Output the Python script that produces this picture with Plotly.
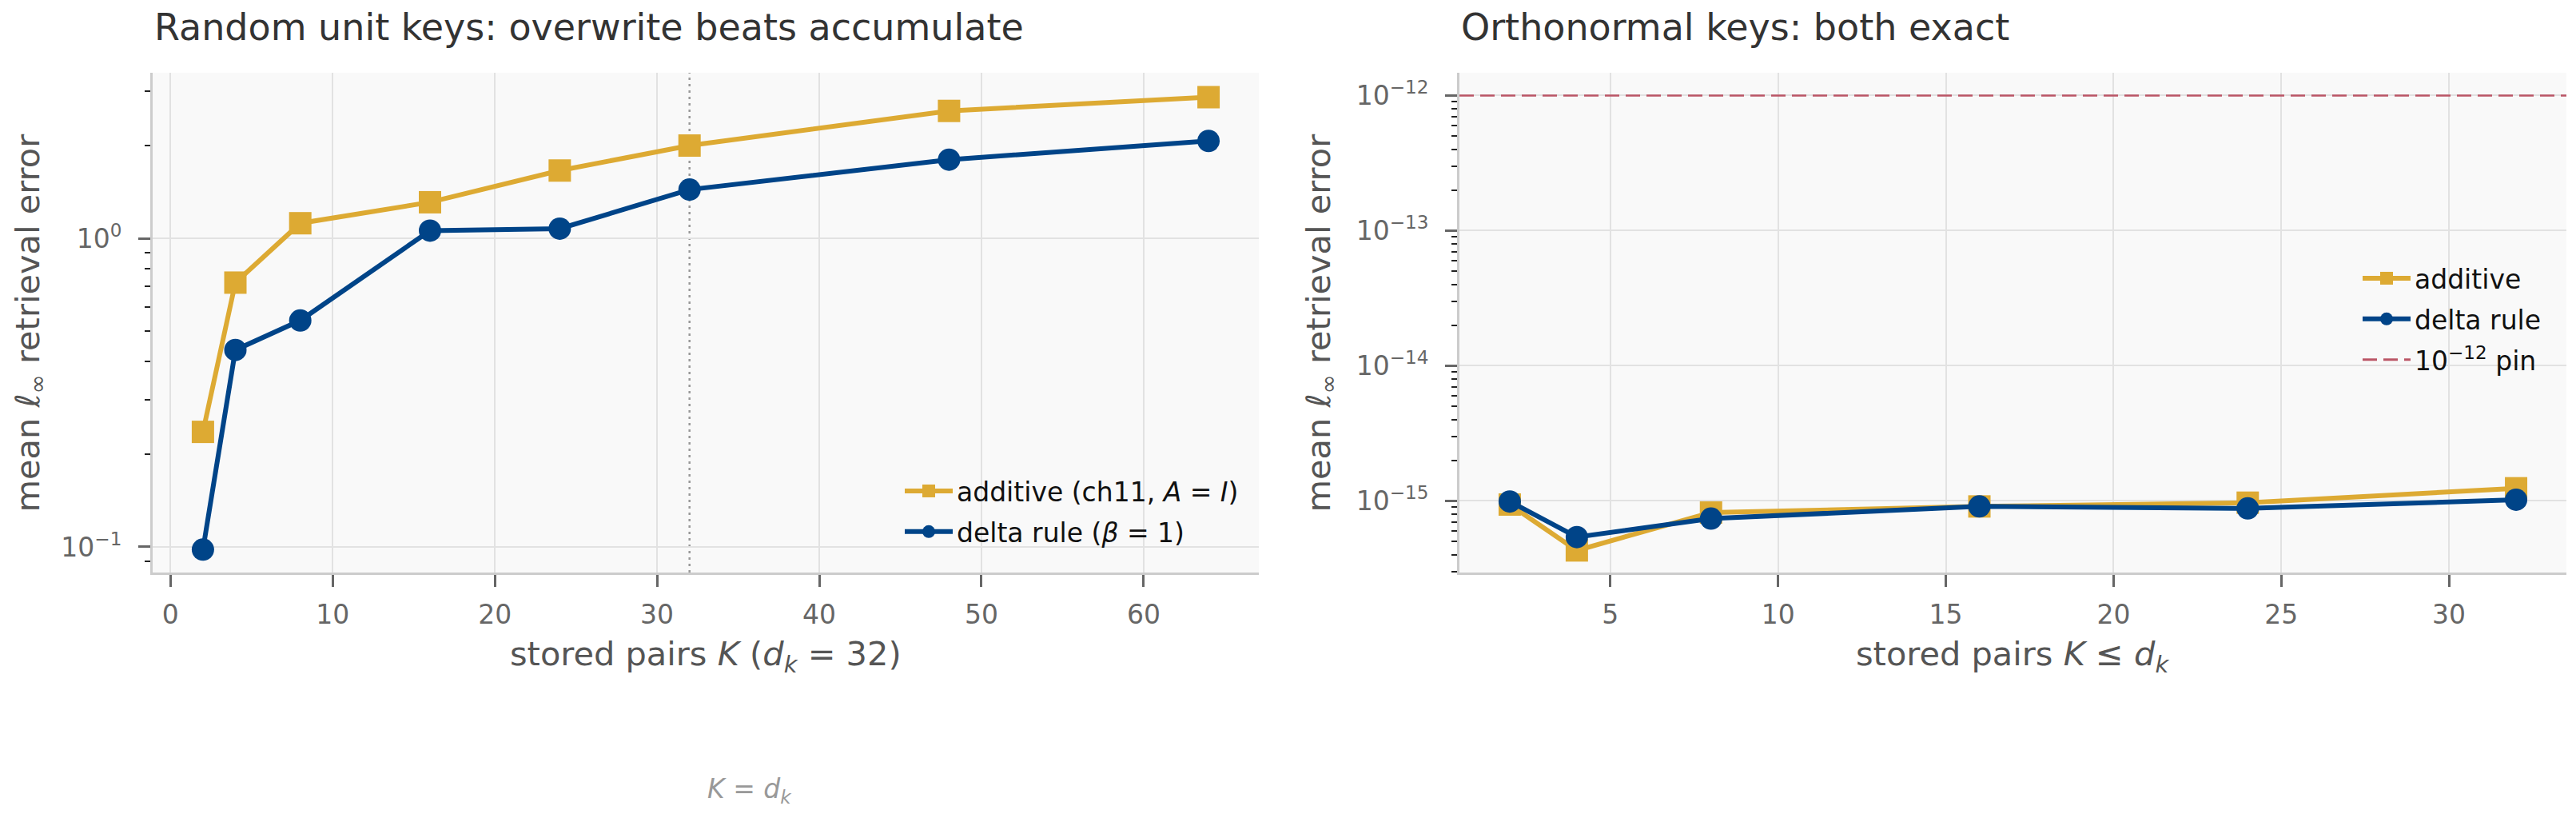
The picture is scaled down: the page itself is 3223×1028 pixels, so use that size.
import plotly.graph_objects as go

# ---------------- data ----------------
K_random = [2, 4, 8, 16, 24, 32, 48, 64]
additive_random = [0.236, 0.719, 1.12, 1.31, 1.66, 2.00, 2.59, 2.87]
delta_random = [0.098, 0.435, 0.542, 1.06, 1.076, 1.44, 1.80, 2.07]

K_ortho = [2, 4, 8, 16, 24, 32]
additive_ortho = [9.4e-16, 4.3e-16, 8.2e-16, 9.1e-16, 9.7e-16, 1.24e-15]
delta_ortho = [9.9e-16, 5.4e-16, 7.4e-16, 9.1e-16, 8.8e-16, 1.02e-15]

D_K = 32
PIN = 1e-12

left_ytickvals = [0.1, 1]
left_yticktext = ["10<sup>\u22121</sup>", "10<sup>0</sup>"]
right_ytickvals = [1e-15, 1e-14, 1e-13, 1e-12]
right_yticktext = ["10<sup>\u221215</sup>", "10<sup>\u221214</sup>",
                   "10<sup>\u221213</sup>", "10<sup>\u221212</sup>"]

# ---------------- style ----------------
GOLD = "#DDAA33"
BLUE = "#004488"
RED = "#BB5566"
FONT = "DejaVu Sans"
W, H = 3223, 1028

def minor_vals(lo_exp, hi_exp):
    vals = []
    for e in range(lo_exp, hi_exp + 1):
        for m in range(2, 10):
            vals.append(m * 10.0 ** e)
    return vals

fig = go.Figure()

# left panel
fig.add_trace(go.Scatter(
    x=K_random, y=additive_random, mode="lines+markers",
    name="additive (ch11, <i>A</i> = <i>I</i>)",
    line=dict(color=GOLD, width=6),
    marker=dict(symbol="square", size=28, color=GOLD),
    xaxis="x", yaxis="y", legend="legend", legendgroup="a"))
fig.add_trace(go.Scatter(
    x=K_random, y=delta_random, mode="lines+markers",
    name="delta rule (<i>\u03b2</i> = 1)",
    line=dict(color=BLUE, width=6),
    marker=dict(symbol="circle", size=28, color=BLUE),
    xaxis="x", yaxis="y", legend="legend", legendgroup="b"))

# right panel
fig.add_trace(go.Scatter(
    x=K_ortho, y=additive_ortho, mode="lines+markers",
    name="additive",
    line=dict(color=GOLD, width=6),
    marker=dict(symbol="square", size=28, color=GOLD),
    xaxis="x2", yaxis="y2", legend="legend2", legendgroup="c"))
fig.add_trace(go.Scatter(
    x=K_ortho, y=delta_ortho, mode="lines+markers",
    name="delta rule",
    line=dict(color=BLUE, width=6),
    marker=dict(symbol="circle", size=28, color=BLUE),
    xaxis="x2", yaxis="y2", legend="legend2", legendgroup="d"))
fig.add_trace(go.Scatter(
    x=[None], y=[None], mode="lines",
    name="10<sup>\u221212</sup> pin",
    line=dict(color=RED, width=3, dash="18px,8px"),
    xaxis="x2", yaxis="y2", legend="legend2", legendgroup="e"))

# pin line and K = d_k line
fig.add_shape(type="line", xref="x2 domain", yref="y2", x0=0, x1=1, y0=PIN, y1=PIN,
              line=dict(color=RED, width=2.5, dash="18px,8px"), layer="above")
fig.add_shape(type="line", xref="x", yref="y domain", x0=D_K, x1=D_K, y0=0, y1=1,
              line=dict(color="#999999", width=2.5, dash="3px,5px"), layer="below")

axis_common = dict(
    showline=True, linecolor="#cccccc", linewidth=3, mirror=False,
    ticks="outside", ticklen=15, tickwidth=2.5, tickcolor="#666666",
    tickfont=dict(family=FONT, size=33, color="#666666"),
    showgrid=True, gridcolor="#e2e2e2", gridwidth=2, zeroline=False,
)

dom_y = [312 / H, 937 / H]
dom_x1 = [191 / W, 1575 / W]
dom_x2 = [1826 / W, 3211 / W]

fig.update_layout(
    width=W, height=H,
    margin=dict(l=0, r=0, t=0, b=0),
    paper_bgcolor="white", plot_bgcolor="#f9f9f9",
    font=dict(family=FONT, color="#333333"),
    xaxis=dict(domain=dom_x1, range=[-1.1, 67.1], tickvals=[0, 10, 20, 30, 40, 50, 60],
               anchor="y", ticklabelstandoff=6, **axis_common),
    yaxis=dict(domain=dom_y, type="log", range=[-1.083, 0.537], anchor="x",
               tickvals=left_ytickvals, ticktext=left_yticktext, ticklabelstandoff=14,
               minor=dict(tickvals=minor_vals(-2, 0), ticks="outside", ticklen=7,
                          tickwidth=2, tickcolor="#222222", showgrid=False),
               **axis_common),
    xaxis2=dict(domain=dom_x2, range=[0.5, 33.5], tickvals=[5, 10, 15, 20, 25, 30],
                anchor="y2", ticklabelstandoff=6, **axis_common),
    yaxis2=dict(domain=dom_y, type="log", range=[-15.53, -11.832], anchor="x2",
                tickvals=right_ytickvals, ticktext=right_yticktext, ticklabelstandoff=14,
                minor=dict(tickvals=minor_vals(-16, -12), ticks="outside", ticklen=7,
                           tickwidth=2, tickcolor="#222222", showgrid=False),
                **axis_common),
    legend=dict(x=1127 / W, y=(H - 586) / H, xanchor="left", yanchor="top",
                bgcolor="rgba(0,0,0,0)", font=dict(family=FONT, size=33, color="#111111"),
                tracegroupgap=5, itemwidth=60),
    legend2=dict(x=2951 / W, y=(H - 320) / H, xanchor="left", yanchor="top",
                 bgcolor="rgba(0,0,0,0)", font=dict(family=FONT, size=33, color="#111111"),
                 tracegroupgap=5, itemwidth=60),
    showlegend=True,
)

ann = []
ann.append(dict(text="Random unit keys: overwrite beats accumulate", xref="paper", yref="paper",
                x=191 / W, y=(H - 34) / H, xanchor="left", yanchor="middle", showarrow=False,
                font=dict(family=FONT, size=46, color="#333333")))
ann.append(dict(text="Orthonormal keys: both exact", xref="paper", yref="paper",
                x=1826 / W, y=(H - 34) / H, xanchor="left", yanchor="middle", showarrow=False,
                font=dict(family=FONT, size=46, color="#333333")))
ann.append(dict(text="stored pairs <i>K</i> (<i>d<sub>k</sub></i> = 32)", xref="paper", yref="paper",
                x=(dom_x1[0] + dom_x1[1]) / 2, y=(H - 820) / H, xanchor="center", yanchor="middle",
                showarrow=False, font=dict(family=FONT, size=41.5, color="#555555")))
ann.append(dict(text="stored pairs <i>K</i> \u2264 <i>d<sub>k</sub></i>", xref="paper", yref="paper",
                x=(dom_x2[0] + dom_x2[1]) / 2, y=(H - 820) / H, xanchor="center", yanchor="middle",
                showarrow=False, font=dict(family=FONT, size=41.5, color="#555555")))
ann.append(dict(text="mean <i>\u2113</i><sub>\u221e</sub> retrieval error", xref="paper", yref="paper",
                x=37 / W, y=(H - 403.5) / H, xanchor="center", yanchor="middle", textangle=-90,
                showarrow=False, font=dict(family=FONT, size=41.5, color="#555555")))
ann.append(dict(text="mean <i>\u2113</i><sub>\u221e</sub> retrieval error", xref="paper", yref="paper",
                x=1652 / W, y=(H - 403.5) / H, xanchor="center", yanchor="middle", textangle=-90,
                showarrow=False, font=dict(family=FONT, size=41.5, color="#555555")))
ann.append(dict(text="<i>K</i> = <i>d<sub>k</sub></i>", xref="x", yref="paper",
                x=D_K + 1, y=(H - 988) / H, xanchor="left", yanchor="middle",
                showarrow=False, font=dict(family=FONT, size=33, color="#999999")))
fig.update_layout(annotations=ann)

fig.write_html("out.html")
